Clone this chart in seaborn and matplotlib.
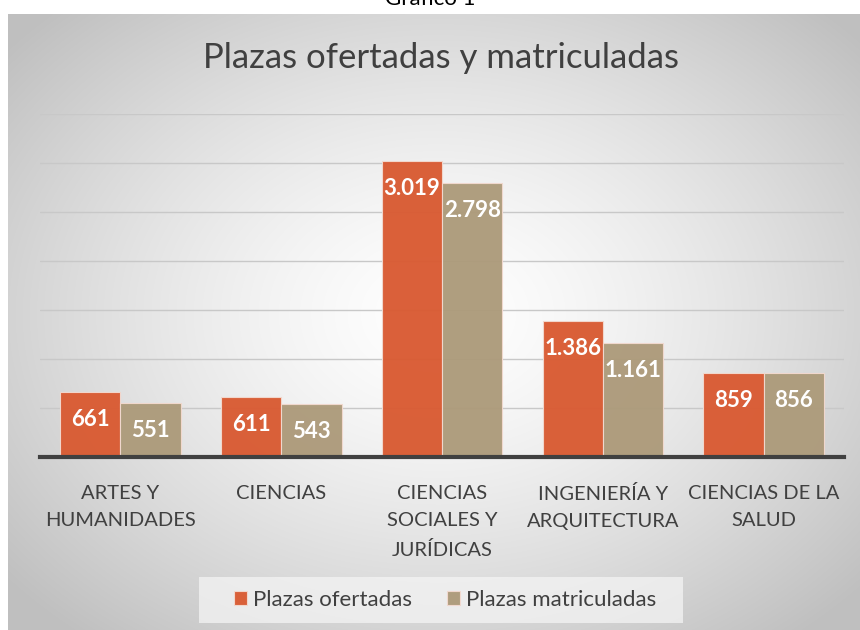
import numpy as np
import pandas as pd
import matplotlib
matplotlib.use("Agg")
import matplotlib.pyplot as plt
import seaborn as sns
from matplotlib.patches import Rectangle

categories = ["ARTES Y\nHUMANIDADES", "CIENCIAS", "CIENCIAS\nSOCIALES Y\nJURÍDICAS",
              "INGENIERÍA Y\nARQUITECTURA", "CIENCIAS DE LA\nSALUD"]
ofertadas = [661, 611, 3019, 1386, 859]
matriculadas = [551, 543, 2798, 1161, 856]
series = ["Plazas ofertadas", "Plazas matriculadas"]
colors = ["#D95B33", "#AD9B7B"]

df = pd.DataFrame({
    "categoria": categories * 2,
    "valor": ofertadas + matriculadas,
    "serie": [series[0]] * len(categories) + [series[1]] * len(categories),
})

sns.set_style("white")
plt.rcParams["font.family"] = ["Lato", "DejaVu Sans"]

fig = plt.figure(figsize=(8.6, 6.3), dpi=100)

# radial gray-to-white background of the chart area
bg = fig.add_axes([8 / 860, 0, 1 - 8 / 860, 616 / 630], zorder=0)
yy, xx = np.mgrid[0:616, 0:852]
r = np.sqrt(((xx - 430) / 560.0) ** 2 + ((yy - 300) / 420.0) ** 2)
shade = 1.0 - 0.25 * np.clip(r, 0, 1) ** 1.4
bg.imshow(np.dstack([shade] * 3), aspect="auto", extent=[0, 1, 0, 1])
bg.set_axis_off()

# legend panel
fig.patches.append(Rectangle((199 / 860, 7 / 630), 484 / 860, 46 / 630,
                             transform=fig.transFigure, facecolor="#F4F4F4",
                             edgecolor="none", alpha=0.75, zorder=0.5))

ax = fig.add_axes([40 / 860, (630 - 457) / 630, 804 / 860, 343 / 630], zorder=1)
ax.patch.set_alpha(0)
sns.barplot(data=df, x="categoria", y="valor", hue="serie", palette=colors,
            saturation=1, width=0.75, gap=0, alpha=0.97, edgecolor="#F2D9CF",
            linewidth=0.8, legend=True, ax=ax)

ax.set_ylim(0, 3500)
ax.set_yticks(np.arange(0, 3501, 500))
ax.yaxis.grid(True, color="#C8C8C8", linewidth=1)
ax.set_axisbelow(True)
ax.set_yticklabels([])
ax.tick_params(axis="y", length=0)
ax.tick_params(axis="x", length=0, pad=20, labelsize=14.5, labelcolor="#404040")
for lab in ax.get_xticklabels():
    lab.set_linespacing(1.75)
for s in ["top", "right", "left"]:
    ax.spines[s].set_visible(False)
ax.spines["bottom"].set_color("#404040")
ax.spines["bottom"].set_linewidth(3)
ax.set_xlabel("")
ax.set_ylabel("")

for cont in ax.containers:
    for bar in cont:
        h = bar.get_height()
        txt = f"{int(h):,}".replace(",", ".")
        ax.annotate(txt, (bar.get_x() + bar.get_width() / 2, h), xytext=(0, -20),
                    textcoords="offset points", ha="center", va="center",
                    color="white", fontsize=16, fontweight="bold")

handles, labels = ax.get_legend_handles_labels()
ax.get_legend().remove()
leg = fig.legend(handles, labels, loc="center", bbox_to_anchor=(445 / 860, 30 / 630),
                 ncol=2, frameon=False, fontsize=16, handlelength=0.6, handleheight=0.6,
                 handletextpad=0.25, columnspacing=1.6)
for t in leg.get_texts():
    t.set_color("#404040")

fig.text(441 / 860, (630 - 58) / 630, "Plazas ofertadas y matriculadas", ha="center",
         va="center", fontsize=25, color="#404040")
fig.text(0.5, 1 + 1 / 630, "Gráfico 1", ha="center", va="center", fontsize=16, color="black")

fig.savefig("out.png", dpi=100)
